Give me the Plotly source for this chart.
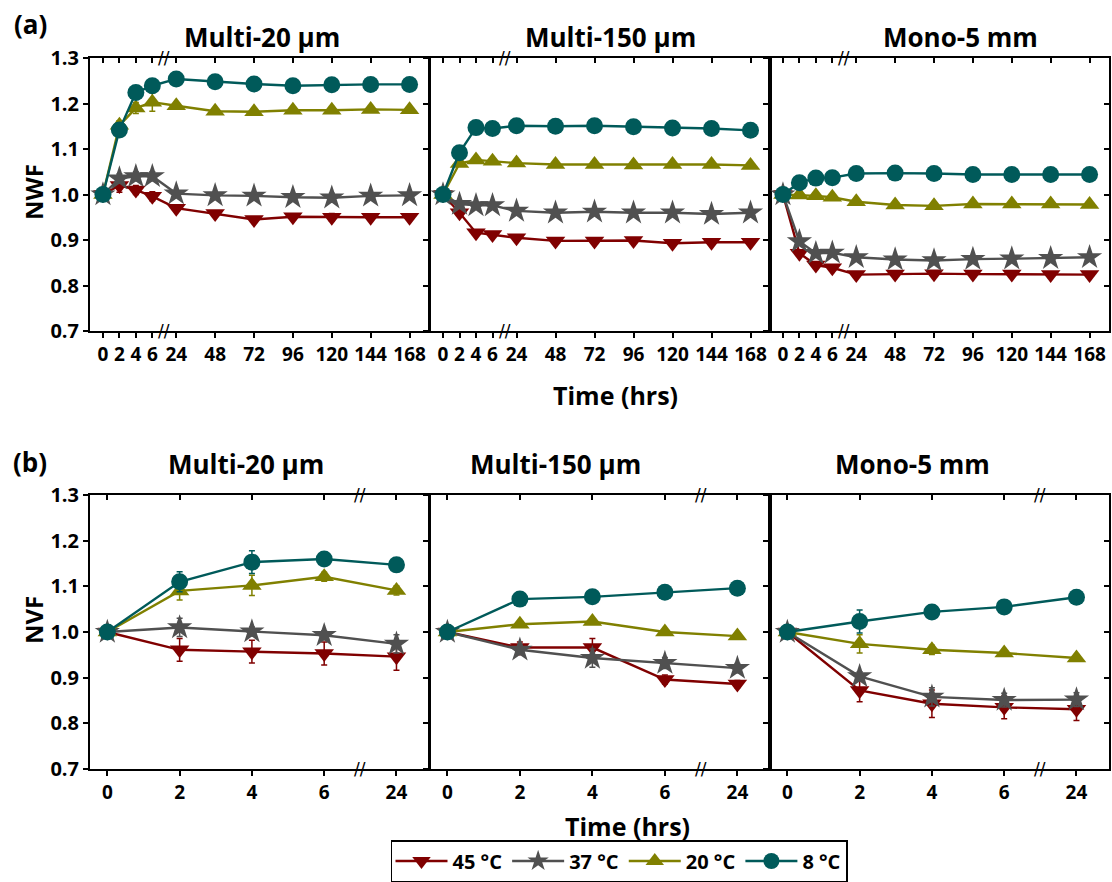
import plotly.graph_objects as go

W, H = 1112, 882

temps = ['45 °C', '37 °C', '20 °C', '8 °C']
colors = ['#800000', '#505050', '#808000', '#005A5A']
symbols = ['triangle-down', 'star', 'triangle-up', 'circle']
panel_names = ['Multi-20 µm', 'Multi-150 µm', 'Mono-5 mm']

time_a = [0, 2, 4, 6, 24, 48, 72, 96, 120, 144, 168]
time_b = [0, 2, 4, 6, 24]
yticks = [0.7, 0.8, 0.9, 1.0, 1.1, 1.2, 1.3]

# ---- (a) NWF, order: 45, 37, 20, 8 °C ----
nwf_m20_45 = [1.0, 1.020, 1.010, 0.996, 0.970, 0.958, 0.945, 0.951, 0.950, 0.950, 0.950]
nwf_m20_37 = [1.0, 1.035, 1.040, 1.040, 1.002, 0.998, 0.997, 0.994, 0.993, 0.997, 0.998]
nwf_m20_20 = [1.0, 1.152, 1.190, 1.203, 1.195, 1.183, 1.182, 1.185, 1.185, 1.187, 1.186]
nwf_m20_8 = [1.0, 1.142, 1.224, 1.239, 1.254, 1.248, 1.243, 1.239, 1.241, 1.242, 1.242]

nwf_m150_45 = [1.0, 0.960, 0.916, 0.912, 0.905, 0.898, 0.898, 0.899, 0.893, 0.895, 0.895]
nwf_m150_37 = [1.0, 0.979, 0.976, 0.976, 0.964, 0.960, 0.962, 0.960, 0.960, 0.957, 0.960]
nwf_m150_20 = [1.0, 1.068, 1.076, 1.073, 1.069, 1.066, 1.066, 1.065, 1.066, 1.066, 1.064]
nwf_m150_8 = [1.0, 1.092, 1.147, 1.145, 1.151, 1.150, 1.151, 1.149, 1.146, 1.145, 1.141]

nwf_mono_45 = [1.0, 0.871, 0.845, 0.839, 0.824, 0.825, 0.826, 0.825, 0.825, 0.824, 0.824]
nwf_mono_37 = [1.0, 0.897, 0.871, 0.872, 0.862, 0.857, 0.855, 0.858, 0.859, 0.860, 0.862]
nwf_mono_20 = [1.0, 0.999, 0.997, 0.994, 0.984, 0.977, 0.975, 0.979, 0.979, 0.979, 0.978]
nwf_mono_8 = [1.0, 1.026, 1.036, 1.037, 1.046, 1.047, 1.046, 1.044, 1.044, 1.044, 1.044]

err_a_small = [0.005] * 11
nwf_m20_err = [[0.01, 0.015, 0.01, 0.01, 0.006, 0.005, 0.005, 0.005, 0.008, 0.005, 0.005],
               [0.005, 0.01, 0.01, 0.01, 0.006, 0.006, 0.006, 0.008, 0.01, 0.006, 0.006],
               [0.005, 0.01, 0.012, 0.02, 0.006, 0.005, 0.005, 0.005, 0.005, 0.005, 0.005],
               [0.005, 0.01, 0.015, 0.01, 0.006, 0.005, 0.005, 0.005, 0.005, 0.005, 0.005]]
nwf_m150_err = [err_a_small, err_a_small, err_a_small, err_a_small]
nwf_mono_err = [err_a_small, err_a_small, err_a_small,
                [0.005, 0.008, 0.005, 0.005, 0.005, 0.005, 0.005, 0.005, 0.005, 0.005, 0.005]]

# ---- (b) NVF ----
nvf_m20_45 = [1.0, 0.961, 0.957, 0.953, 0.946]
nvf_m20_37 = [1.0, 1.010, 1.001, 0.993, 0.974]
nvf_m20_20 = [1.0, 1.090, 1.102, 1.121, 1.091]
nvf_m20_8 = [1.0, 1.110, 1.153, 1.160, 1.147]

nvf_m150_45 = [1.0, 0.966, 0.966, 0.896, 0.886]
nvf_m150_37 = [1.0, 0.961, 0.943, 0.932, 0.921]
nvf_m150_20 = [1.0, 1.017, 1.023, 1.000, 0.991]
nvf_m150_8 = [1.0, 1.072, 1.077, 1.087, 1.096]

nvf_mono_45 = [1.0, 0.872, 0.843, 0.835, 0.831]
nvf_mono_37 = [1.0, 0.903, 0.858, 0.851, 0.852]
nvf_mono_20 = [1.0, 0.974, 0.961, 0.954, 0.943]
nvf_mono_8 = [1.0, 1.023, 1.044, 1.055, 1.076]

nvf_m20_err = [[0.01, 0.025, 0.025, 0.025, 0.03],
               [0.005, 0.02, 0.01, 0.01, 0.02],
               [0.01, 0.02, 0.022, 0.01, 0.01],
               [0.005, 0.022, 0.025, 0.01, 0.01]]
nvf_m150_err = [[0.01, 0.012, 0.02, 0.01, 0.008],
                [0.005, 0.01, 0.02, 0.012, 0.01],
                [0.008, 0.005, 0.005, 0.005, 0.005],
                [0.005, 0.005, 0.005, 0.005, 0.005]]
nvf_mono_err = [[0.01, 0.025, 0.03, 0.025, 0.025],
                [0.005, 0.01, 0.02, 0.015, 0.015],
                [0.01, 0.02, 0.01, 0.005, 0.005],
                [0.005, 0.025, 0.005, 0.005, 0.005]]

data_a = [[nwf_m20_45, nwf_m20_37, nwf_m20_20, nwf_m20_8],
          [nwf_m150_45, nwf_m150_37, nwf_m150_20, nwf_m150_8],
          [nwf_mono_45, nwf_mono_37, nwf_mono_20, nwf_mono_8]]
err_a = [nwf_m20_err, nwf_m150_err, nwf_mono_err]
data_b = [[nvf_m20_45, nvf_m20_37, nvf_m20_20, nvf_m20_8],
          [nvf_m150_45, nvf_m150_37, nvf_m150_20, nvf_m150_8],
          [nvf_mono_45, nvf_mono_37, nvf_mono_20, nvf_mono_8]]
err_b = [nvf_m20_err, nvf_m150_err, nvf_mono_err]


# broken time axes
def pos_a(t):
    return t * 8.25 if t <= 6 else 73.5 + (t - 24) * 39.0 / 24.0


def pos_b(t):
    return time_b.index(t)


def sfx(n):
    return '' if n == 1 else str(n)


FONT = 'Open Sans'
fig = go.Figure()

col_px = [(90, 429), (430, 770), (770, 1109)]
row_px = [(58, 331), (495, 769)]


def px_x(p):
    return p / W


def px_y(p):
    return 1 - p / H


def label(txt, xx, yy, size, angle=0):
    fig.add_annotation(x=px_x(xx), y=px_y(yy), xref='paper', yref='paper', text=txt,
                       xanchor='center', yanchor='middle', textangle=angle,
                       showarrow=False,
                       font=dict(family=FONT, size=size, color='black', weight='bold'))


layout = {}
for r in range(2):
    for c in range(3):
        i = r * 3 + c + 1
        j = i + 6
        si, sj = sfx(i), sfx(j)
        times = time_a if r == 0 else time_b
        pf = pos_a if r == 0 else pos_b
        xr = [-13, 327] if r == 0 else [-0.24, 4.45]
        tv = [pf(t) for t in times]
        tt = [str(t) for t in times]
        dx = [px_x(col_px[c][0]), px_x(col_px[c][1])]
        dy = [px_y(row_px[r][1]), px_y(row_px[r][0])]
        common_x = dict(range=xr, tickvals=tv, showgrid=False, zeroline=False,
                        showline=True, linecolor='black', linewidth=2, automargin=False,
                        tickcolor='black', tickwidth=1.5, ticklen=5)
        common_y = dict(range=[0.7, 1.3], tickvals=yticks, showgrid=False, zeroline=False,
                        showline=True, linecolor='black', linewidth=2, automargin=False,
                        tickcolor='black', tickwidth=1.5, ticklen=5)
        layout['xaxis' + si] = dict(domain=dx, anchor='y' + si, ticks='outside',
                                    ticktext=tt,
                                    tickfont=dict(family=FONT, size=19, color='black', weight='bold'),
                                    **common_x)
        layout['yaxis' + si] = dict(domain=dy, anchor='x' + si, ticks='outside',
                                    ticktext=['%.1f' % v for v in yticks],
                                    showticklabels=(c == 0),
                                    tickfont=dict(family=FONT, size=20, color='black', weight='bold'),
                                    **common_y)
        layout['xaxis' + sj] = dict(overlaying='x' + si, anchor='y' + si, side='top',
                                    ticks='inside', showticklabels=False, **common_x)
        layout['yaxis' + sj] = dict(overlaying='y' + si, anchor='x' + si, side='right',
                                    ticks='inside', showticklabels=False, **common_y)

        vals = data_a[c] if r == 0 else data_b[c]
        errs = err_a[c] if r == 0 else err_b[c]
        for k in range(4):
            fig.add_trace(go.Scatter(
                x=[pf(t) for t in times], y=vals[k],
                mode='lines+markers', name=temps[k],
                legendgroup=temps[k], showlegend=(i == 1),
                line=dict(color=colors[k], width=2.4),
                marker=dict(symbol=symbols[k], size=17 if k != 1 else 19, color=colors[k],
                            line=dict(width=0)),
                error_y=dict(type='data', array=errs[k], visible=True, color=colors[k],
                             thickness=1.5, width=3),
                xaxis='x' + si, yaxis='y' + si))
        fig.add_trace(go.Scatter(x=[None], y=[None], xaxis='x' + sj, yaxis='y' + sj,
                                 showlegend=False, hoverinfo='skip'))

        # axis-break marks
        bx = (pf(6) + pf(24)) / 2.0
        for yy in (0, 1):
            fig.add_annotation(x=bx, y=yy, xref='x' + si, yref='y' + si + ' domain',
                               text='//', showarrow=False, xanchor='center', yanchor='middle',
                               font=dict(family='DejaVu Sans', size=17, color='black'))

# titles
titles_a = [(262, 37), (610, 37), (960, 37)]
titles_b = [(246, 464), (555, 464), (912, 464)]
for (xx, yy), name in zip(titles_a + titles_b, panel_names + panel_names):
    label(name, xx, yy, 26)

label('(a)', 30, 24, 26)
label('(b)', 30, 462, 26)
label('Time (hrs)', 615, 395, 25)
label('Time (hrs)', 627, 826, 25)
label('NWF', 33, 192, 24, -90)
label('NVF', 33, 620, 24, -90)

fig.update_layout(
    width=W, height=H, autosize=False,
    margin=dict(l=0, r=0, t=0, b=0, pad=0),
    paper_bgcolor='white', plot_bgcolor='white',
    showlegend=True,
    legend=dict(orientation='h', x=619 / W, xanchor='center', y=0, yanchor='bottom',
                bordercolor='black', borderwidth=1.5, bgcolor='white',
                font=dict(family=FONT, size=20, color='black', weight='bold'),
                itemwidth=52, tracegroupgap=0, itemsizing='trace'),
    **layout)

fig.write_html('out.html', config={'displayModeBar': False},
               post_script="document.body.style.margin='0px';document.body.style.overflow='hidden';")
